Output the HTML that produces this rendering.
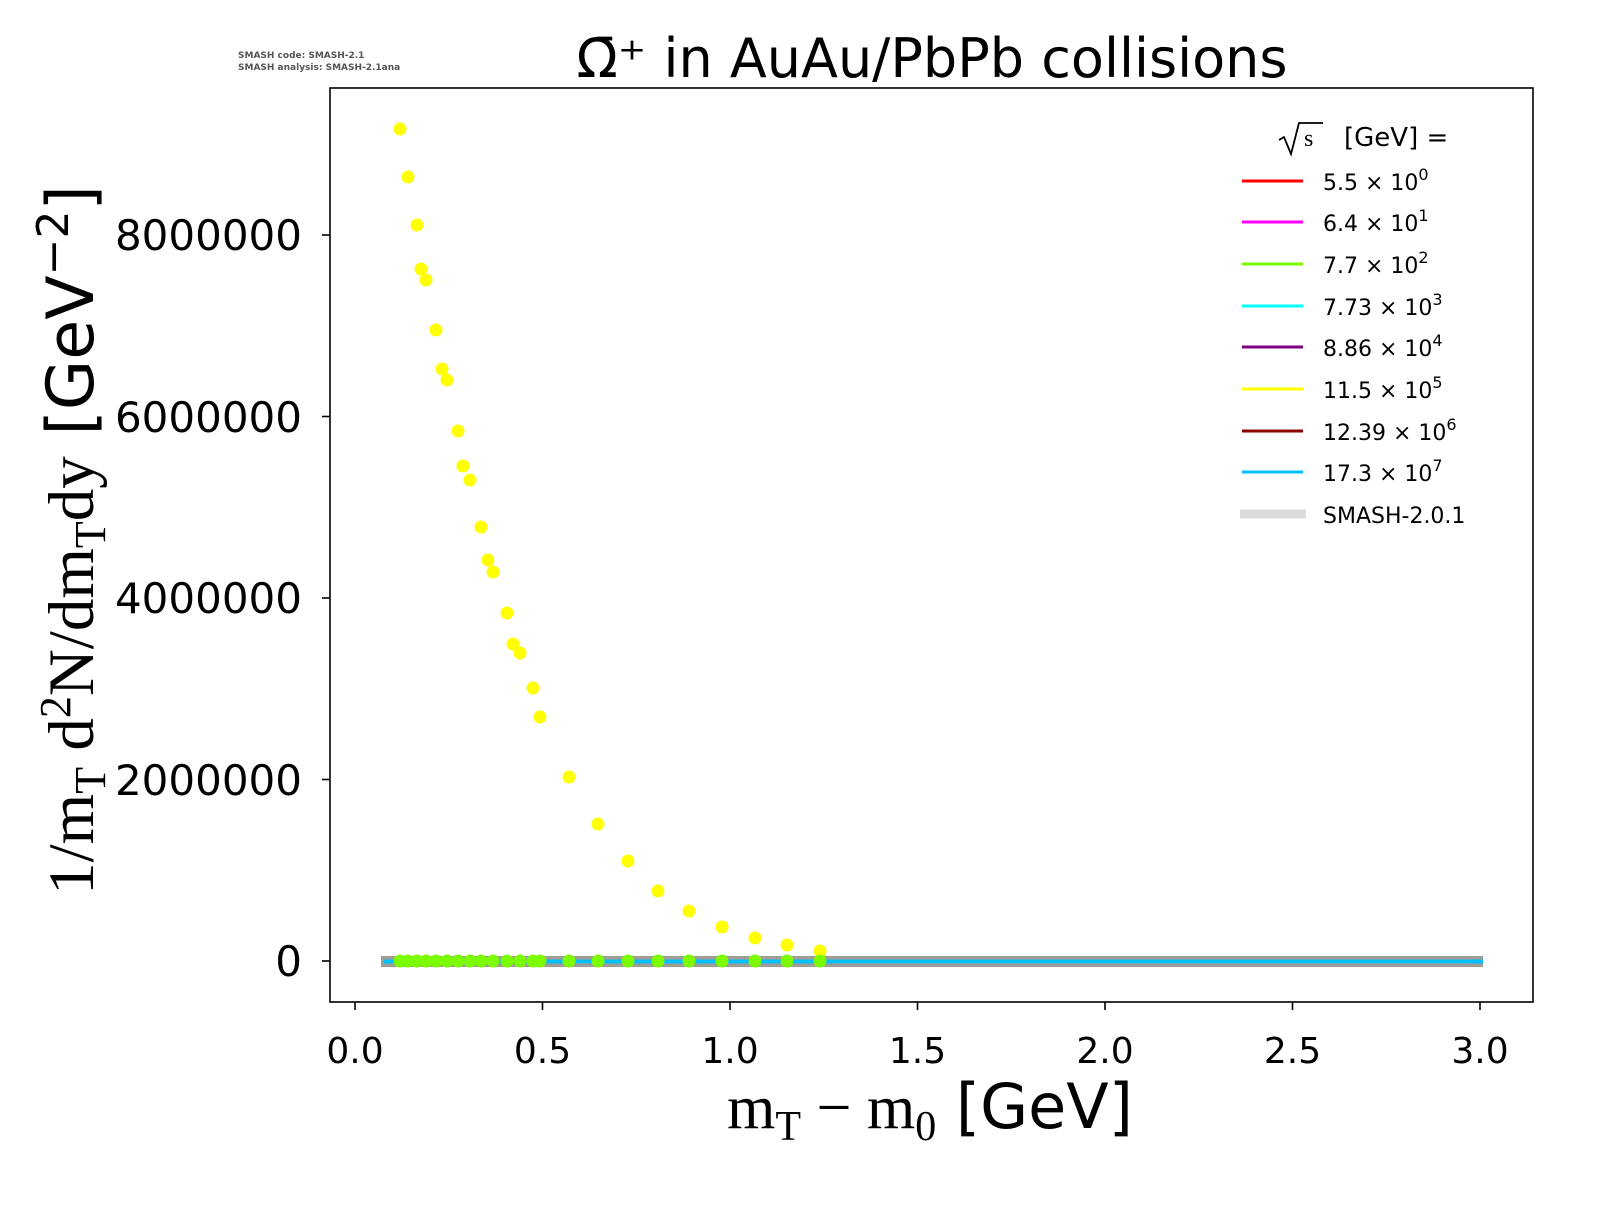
<!DOCTYPE html>
<html><head><meta charset="utf-8"><style>body{margin:0;background:#fff}</style></head><body>
<svg width="1600" height="1200" xmlns="http://www.w3.org/2000/svg" font-family="'DejaVu Sans','Liberation Sans',sans-serif">
<rect width="1600" height="1200" fill="#fff"/>
<text x="238" y="58" font-size="9" fill="#555" font-weight="bold">SMASH code:      SMASH-2.1</text>
<text x="238" y="70" font-size="9" fill="#555" font-weight="bold">SMASH analysis: SMASH-2.1ana</text>
<text x="932" y="77" font-size="54" text-anchor="middle" fill="#000">Ω̄⁺ in AuAu/PbPb collisions</text>
<rect x="381" y="956" width="1102" height="11" fill="#a09d95"/>
<line x1="384" y1="961.5" x2="1483" y2="961.5" stroke="#00bfff" stroke-width="4"/>
<g fill="#ffff00">
<circle cx="400" cy="129" r="6.5"/><circle cx="408" cy="177" r="6.5"/><circle cx="417" cy="225" r="6.5"/><circle cx="421" cy="269" r="6.5"/><circle cx="426" cy="280" r="6.5"/><circle cx="436" cy="330" r="6.5"/><circle cx="442" cy="369" r="6.5"/><circle cx="447" cy="380" r="6.5"/><circle cx="458" cy="431" r="6.5"/><circle cx="463" cy="466" r="6.5"/><circle cx="470" cy="480" r="6.5"/><circle cx="481" cy="527" r="6.5"/><circle cx="488" cy="560" r="6.5"/><circle cx="493" cy="572" r="6.5"/><circle cx="507" cy="613" r="6.5"/><circle cx="513" cy="644" r="6.5"/><circle cx="520" cy="653" r="6.5"/><circle cx="533" cy="688" r="6.5"/><circle cx="540" cy="717" r="6.5"/><circle cx="569" cy="777" r="6.5"/><circle cx="598" cy="824" r="6.5"/><circle cx="628" cy="861" r="6.5"/><circle cx="658" cy="891" r="6.5"/><circle cx="689" cy="911" r="6.5"/><circle cx="722" cy="927" r="6.5"/><circle cx="755" cy="938" r="6.5"/><circle cx="787" cy="945" r="6.5"/><circle cx="820" cy="951" r="6.5"/>
</g>
<g fill="#7cfc00">
<circle cx="408" cy="961" r="6.5"/><circle cx="417" cy="961" r="6.5"/><circle cx="426" cy="961" r="6.5"/><circle cx="436" cy="961" r="6.5"/><circle cx="447" cy="961" r="6.5"/><circle cx="458" cy="961" r="6.5"/><circle cx="470" cy="961" r="6.5"/><circle cx="481" cy="961" r="6.5"/><circle cx="493" cy="961" r="6.5"/><circle cx="507" cy="961" r="6.5"/><circle cx="520" cy="961" r="6.5"/><circle cx="533" cy="961" r="6.5"/><circle cx="540" cy="961" r="6.5"/><circle cx="569" cy="961" r="6.5"/><circle cx="598" cy="961" r="6.5"/><circle cx="628" cy="961" r="6.5"/><circle cx="658" cy="961" r="6.5"/><circle cx="689" cy="961" r="6.5"/><circle cx="722" cy="961" r="6.5"/><circle cx="755" cy="961" r="6.5"/><circle cx="787" cy="961" r="6.5"/><circle cx="820" cy="961" r="6.5"/><circle cx="400" cy="961" r="6.5"/>
</g>
<rect x="330" y="88" width="1203" height="914" fill="none" stroke="#000" stroke-width="1.6"/>
<g stroke="#000" stroke-width="1.6">
<line x1="355" y1="1002" x2="355" y2="1010"/><line x1="542.5" y1="1002" x2="542.5" y2="1010"/><line x1="730" y1="1002" x2="730" y2="1010"/><line x1="917.5" y1="1002" x2="917.5" y2="1010"/><line x1="1105" y1="1002" x2="1105" y2="1010"/><line x1="1292.5" y1="1002" x2="1292.5" y2="1010"/><line x1="1480" y1="1002" x2="1480" y2="1010"/>
<line x1="322" y1="961" x2="330" y2="961"/><line x1="322" y1="779.5" x2="330" y2="779.5"/><line x1="322" y1="598" x2="330" y2="598"/><line x1="322" y1="416.5" x2="330" y2="416.5"/><line x1="322" y1="235" x2="330" y2="235"/>
</g>
<g font-size="36" text-anchor="middle" fill="#000">
<text x="355" y="1063">0.0</text><text x="542.5" y="1063">0.5</text><text x="730" y="1063">1.0</text><text x="917.5" y="1063">1.5</text><text x="1105" y="1063">2.0</text><text x="1292.5" y="1063">2.5</text><text x="1480" y="1063">3.0</text>
</g>
<g font-size="42" text-anchor="end" fill="#000">
<text x="302" y="976">0</text><text x="302" y="795">2000000</text><text x="302" y="613">4000000</text><text x="302" y="432">6000000</text><text x="302" y="250">8000000</text>
</g>
<text x="930" y="1128" font-size="62" text-anchor="middle" fill="#000"><tspan font-family="'Liberation Serif',serif">m<tspan font-size="42" dy="12">T</tspan><tspan dy="-12"> − m</tspan><tspan font-size="42" dy="12">0</tspan></tspan><tspan dy="-12"> [GeV]</tspan></text>
<text transform="translate(93,540) rotate(-90)" font-size="65" text-anchor="middle" fill="#000"><tspan font-family="'Liberation Serif',serif">1/m<tspan font-size="44" dy="12">T</tspan><tspan dy="-12"> d</tspan><tspan font-size="44" dy="-23">2</tspan><tspan dy="23">N/dm</tspan><tspan font-size="44" dy="12">T</tspan><tspan dy="-12">dy</tspan></tspan><tspan> [GeV</tspan><tspan font-size="44" dy="-25">−2</tspan><tspan dy="25">]</tspan></text>
<path d="M1279,140 L1284,137 L1291,154 L1299,123 L1323,123" fill="none" stroke="#000" stroke-width="1.8"/>
<text x="1304" y="146" font-size="24" font-family="'Liberation Serif',serif" fill="#000">s</text>
<text x="1344" y="146" font-size="26" fill="#000">[GeV] =</text>
<g stroke-width="3">
<line x1="1242" y1="181" x2="1303" y2="181" stroke="#ff0000"/>
<line x1="1242" y1="222" x2="1303" y2="222" stroke="#ff00ff"/>
<line x1="1242" y1="264" x2="1303" y2="264" stroke="#7cfc00"/>
<line x1="1242" y1="306" x2="1303" y2="306" stroke="#00ffff"/>
<line x1="1242" y1="347" x2="1303" y2="347" stroke="#800080"/>
<line x1="1242" y1="389" x2="1303" y2="389" stroke="#ffff00"/>
<line x1="1242" y1="431" x2="1303" y2="431" stroke="#8b0000"/>
<line x1="1242" y1="472" x2="1303" y2="472" stroke="#00bfff"/>
<line x1="1240" y1="514" x2="1306" y2="514" stroke="#dcdcdc" stroke-width="9"/>
</g>
<g font-size="22" fill="#000">
<text x="1323" y="190">5.5 × 10<tspan font-size="16" dy="-10">0</tspan></text>
<text x="1323" y="231">6.4 × 10<tspan font-size="16" dy="-10">1</tspan></text>
<text x="1323" y="273">7.7 × 10<tspan font-size="16" dy="-10">2</tspan></text>
<text x="1323" y="315">7.73 × 10<tspan font-size="16" dy="-10">3</tspan></text>
<text x="1323" y="356">8.86 × 10<tspan font-size="16" dy="-10">4</tspan></text>
<text x="1323" y="398">11.5 × 10<tspan font-size="16" dy="-10">5</tspan></text>
<text x="1323" y="440">12.39 × 10<tspan font-size="16" dy="-10">6</tspan></text>
<text x="1323" y="481">17.3 × 10<tspan font-size="16" dy="-10">7</tspan></text>
<text x="1323" y="523">SMASH-2.0.1</text>
</g>
</svg>
</body></html>
